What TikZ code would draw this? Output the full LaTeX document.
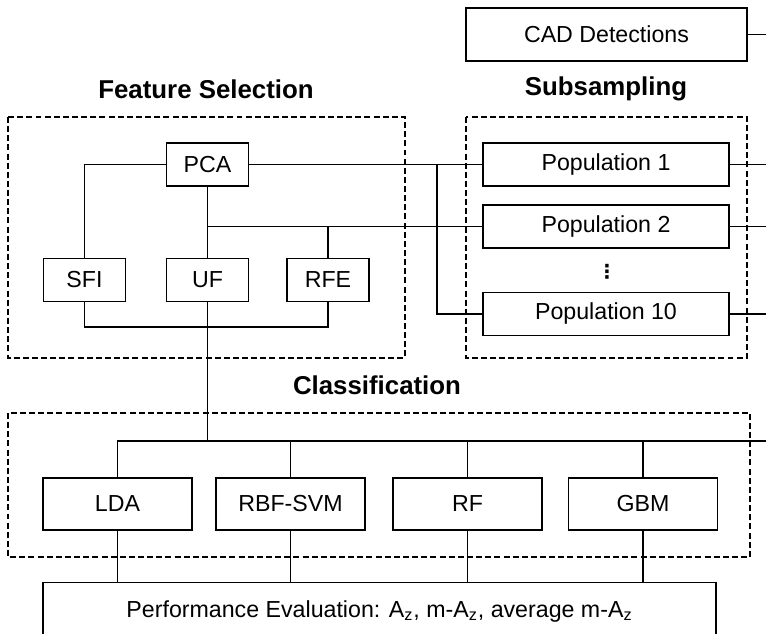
\documentclass[tikz,border=0pt]{standalone}
\usepackage{fontspec}
\setmainfont{Liberation Sans}
\newfontfamily\dotsfont{DejaVu Sans}
\begin{document}
\begin{tikzpicture}[x=0.02cm, y=-0.02cm,
		blk/.style={draw, line width=0.85pt, inner sep=0pt, font=\fontsize{13.2}{15}\selectfont},
		smallblk/.style={blk, minimum width=1.64cm, minimum height=0.86cm},
		popblk/.style={blk, minimum width=4.92cm, minimum height=0.86cm},
		clsblk/.style={blk, minimum width=2.98cm, minimum height=1.04cm},
		grouptitle/.style={font=\bfseries\fontsize{14.7}{17}\selectfont},
		groupbox/.style={line width=0.95pt, dash pattern=on 3.4pt off 1.8pt},
		wire/.style={line width=0.7pt}]
							\useasboundingbox (0,0) rectangle (766,634);
							
							\node[blk, minimum width=5.62cm, minimum height=1.06cm] (cad) at (606.5,34.5) {CAD Detections};
							
							\node[grouptitle] (fstitle) at (206,89) {Feature Selection};
							\node[grouptitle] (sstitle) at (606,89) {Subsampling};
							\node[grouptitle] (cltitle) at (377,385) {Classification};
							
							\draw[groupbox] (8,117) rectangle (405,358);
							\draw[groupbox] (466,117) rectangle (747,358);
							\draw[groupbox] (8,413) rectangle (750,557);
							
							\node[smallblk] (pca) at (207.5,164.5) {PCA};
							\node[smallblk] (sfi) at (84.5,280) {SFI};
							\node[smallblk] (uf) at (207.5,280) {UF};
							\node[smallblk] (rfe) at (328,280) {RFE};
							
							\node[popblk] (pop1) at (606,164.5) {Population 1};
							\node[popblk] (pop2) at (606,226.5) {Population 2};
							\node[font=\dotsfont\bfseries\fontsize{11}{12}\selectfont, inner sep=0pt] (dots) at (607,272) {⋮};
							\node[popblk] (pop10) at (606,314) {Population 10};
							
							\node[clsblk] (lda) at (117.5,504) {LDA};
							\node[clsblk] (rbf) at (290.5,504) {RBF-SVM};
							\node[clsblk] (rf) at (467.5,504) {RF};
							\node[clsblk] (gbm) at (643,504) {GBM};
							
							\node[blk, minimum width=13.46cm, minimum height=1.16cm, anchor=north] (perf) at (379.5,582) {Performance Evaluation: A\textsubscript{z}, m-A\textsubscript{z}, average m-A\textsubscript{z}};
							
							\coordinate (fsjoin) at (207.5,327);
							\coordinate (popjoin) at (pca.south |- pop2.west);
							\coordinate (popbus) at (437,164.5);
							\coordinate (clsbus) at (766,441);
							\coordinate (edge) at (766,0);
							
							\draw[wire] (pca.west) -| (sfi.north);
							\draw[wire] (pca.east) -- (pop1.west);
							\draw[wire] (pca.south) -- (uf.north);
							\draw[wire] (popjoin) -- (pop2.west);
							\draw[wire] (rfe.north) |- (popjoin);
							\draw[wire] (popbus) |- (pop10.west);
							\draw[wire] (sfi.south) |- (fsjoin) -| (rfe.south);
							\draw[wire] (uf.south) -- (uf.south |- clsbus);
							\draw[wire] (lda.north) |- (clsbus);
							\foreach \c in {rbf,rf,gbm}
								\draw[wire] (\c.north) -- (\c.north |- clsbus);
							\foreach \c in {lda,rbf,rf,gbm}
								\draw[wire] (\c.south) -- (\c.south |- perf.north);
							\foreach \c in {cad,pop1,pop2,pop10}
								\draw[wire] (\c.east) -- (\c.east -| edge);
						\end{tikzpicture}
\end{document}
